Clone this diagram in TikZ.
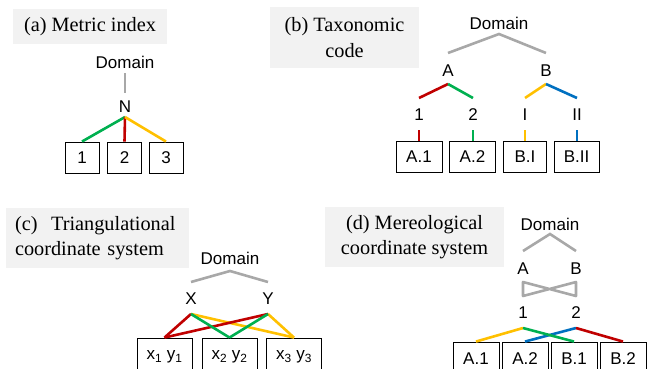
\documentclass[tikz,border=0pt]{standalone}
\usepackage{fontspec}
\setmainfont{Liberation Serif}
\setsansfont{Liberation Sans}
\definecolor{cred}{HTML}{C00000}
\definecolor{cgreen}{HTML}{00B050}
\definecolor{cyellow}{HTML}{FFC000}
\definecolor{cblue}{HTML}{0070C0}
\definecolor{lgray}{HTML}{A8A8A8}
\definecolor{capbg}{HTML}{F2F2F2}
\begin{document}
\begin{tikzpicture}[x=1pt,y=-1pt,
  lab/.style={font=\sffamily\fontsize{17}{20}\selectfont, inner sep=0pt},
  captionbox/.style={fill=capbg, font=\rmfamily\fontsize{20.3}{25.5}\selectfont, inner sep=0pt},
  cell/.style={draw=black, line width=0.9pt, font=\sffamily\fontsize{17}{20}\selectfont, inner sep=0pt},
  gline/.style={draw=lgray, line width=2.6pt},
  cline/.style={line width=2.6pt}]
\useasboundingbox (0,0) rectangle (650,368);

% ---------------- (a) Metric index
\node[captionbox, minimum width=154pt, minimum height=35pt] (capA) at (90,26.5) {(a) Metric index};
\node[lab] (dA) at (125,62) {Domain};
\node[lab] (NA) at (125,107) {N};
\node[cell, minimum width=34pt, minimum height=31pt] (a1) at (82,157.5) {1};
\node[cell, minimum width=34pt, minimum height=31pt] (a2) at (124.5,157.5) {2};
\node[cell, minimum width=34pt, minimum height=31pt] (a3) at (166,157.5) {3};
\draw[gline] ([yshift=-11pt]dA.center) -- ([yshift=14pt]NA.center);
\coordinate (NAv) at ([yshift=-10pt]NA.center);
\draw[cline, cgreen] (NAv) -- (a1.north);
\draw[cline, cred] (NAv) -- (a2.north);
\draw[cline, cyellow] (NAv) -- (a3.north);

% ---------------- (b) Taxonomic code
\node[captionbox, minimum width=149pt, minimum height=61pt, align=center] (capB) at (344.5,37.5) {(b) Taxonomic\\code};
\node[lab] (dB) at (499,23) {Domain};
\node[lab] (bA) at (448,71) {A};
\node[lab] (bB) at (546,71) {B};
\node[lab] (b1) at (419,115) {1};
\node[lab] (b2) at (473,115) {2};
\node[lab] (bI) at (525,115) {I};
\node[lab] (bII) at (577,115) {II};
\node[cell, minimum width=46pt, minimum height=31pt] (bx1) at (419,156.5) {A.1};
\node[cell, minimum width=46pt, minimum height=31pt] (bx2) at (472.5,156.5) {A.2};
\node[cell, minimum width=43pt, minimum height=31pt] (bx3) at (525,156.5) {B.I};
\node[cell, minimum width=45pt, minimum height=31pt] (bx4) at (576.5,156.5) {B.II};
\coordinate (dBv) at ([yshift=-11pt]dB.center);
\draw[gline] ([yshift=18pt]bA.center) -- (dBv) -- ([yshift=18pt]bB.center);
\coordinate (bAv) at ([yshift=-13pt]bA.center);
\coordinate (bBv) at ([yshift=-13pt]bB.center);
\draw[cline, cred] (bAv) -- ([yshift=17pt]b1.center);
\draw[cline, cgreen] (bAv) -- ([yshift=17pt]b2.center);
\draw[cline, cyellow] (bBv) -- ([yshift=17pt]bI.center);
\draw[cline, cblue] (bBv) -- ([yshift=17pt]bII.center);
\draw[cline, cred] ([yshift=-15pt]b1.center) -- (b1.center |- bx1.north);
\draw[cline, cgreen] ([yshift=-15pt]b2.center) -- (b2.center |- bx2.north);
\draw[cline, cyellow] ([yshift=-15pt]bI.center) -- (bI.center |- bx3.north);
\draw[cline, cblue] ([yshift=-15pt]bII.center) -- (bII.center |- bx4.north);

% ---------------- (c) Triangulational coordinate system
\node[captionbox, text width=165pt, inner xsep=9pt, minimum height=60pt, align=left] (capC) at (97.5,238) {(c)\ \ Triangulational\\coordinate system};
\node[lab] (dC) at (230,258) {Domain};
\node[lab] (cX) at (191,299) {X};
\node[lab] (cY) at (268,299) {Y};
\node[cell, minimum width=55pt, minimum height=38pt] (c1) at (164.5,357) {x\textsubscript{1} y\textsubscript{1}};
\node[cell, minimum width=55pt, minimum height=38pt] (c2) at (229.5,357) {x\textsubscript{2} y\textsubscript{2}};
\node[cell, minimum width=55pt, minimum height=38pt] (c3) at (294,357) {x\textsubscript{3} y\textsubscript{3}};
\coordinate (dCv) at ([yshift=-13pt]dC.center);
\draw[gline] ([yshift=17pt]cX.center) -- (dCv) -- ([yshift=17pt]cY.center);
\coordinate (cXv) at ([yshift=-15pt]cX.center);
\coordinate (cYv) at ([yshift=-15pt]cY.center);
\draw[cline, cyellow] (cXv) -- (c3.north);
\draw[cline, cyellow] (cYv) -- (c3.north);
\draw[cline, cred] (cXv) -- (c1.north);
\draw[cline, cred] (cYv) -- (c1.north);
\draw[cline, cgreen] (cXv) -- (c2.north);
\draw[cline, cgreen] (cYv) -- (c2.north);

% ---------------- (d) Mereological coordinate system
\node[captionbox, minimum width=179pt, minimum height=60pt, align=center] (capD) at (414.5,237) {(d) Mereological\\coordinate system};
\node[lab] (dD) at (550,224) {Domain};
\node[lab] (dA2) at (523,269) {A};
\node[lab] (dB2) at (576,269) {B};
\node[lab] (d1) at (523,313) {1};
\node[lab] (d2) at (576,313) {2};
\node[cell, minimum width=46pt, minimum height=34pt] (dx1) at (476,359) {A.1};
\node[cell, minimum width=46pt, minimum height=34pt] (dx2) at (525,359) {A.2};
\node[cell, minimum width=46pt, minimum height=34pt] (dx3) at (574,359) {B.1};
\node[cell, minimum width=46pt, minimum height=34pt] (dx4) at (623,359) {B.2};
\coordinate (dDv) at ([yshift=-10pt]dD.center);
\draw[gline] ([yshift=18pt]dA2.center) -- (dDv) -- ([yshift=18pt]dB2.center);
\draw[gline, line join=round] ([yshift=-13pt]dA2.center) -- ([yshift=17pt]d2.center)
  -- ([yshift=-13pt]dB2.center) -- ([yshift=17pt]d1.center) -- cycle;
\coordinate (d1v) at ([yshift=-15pt]d1.center);
\coordinate (d2v) at ([yshift=-15pt]d2.center);
\draw[cline, cyellow] (d1v) -- (dx1.north);
\draw[cline, cblue] (d2v) -- (dx2.north);
\draw[cline, cgreen] (d1v) -- (dx3.north);
\draw[cline, cred] (d2v) -- (dx4.north);
\end{tikzpicture}
\end{document}
